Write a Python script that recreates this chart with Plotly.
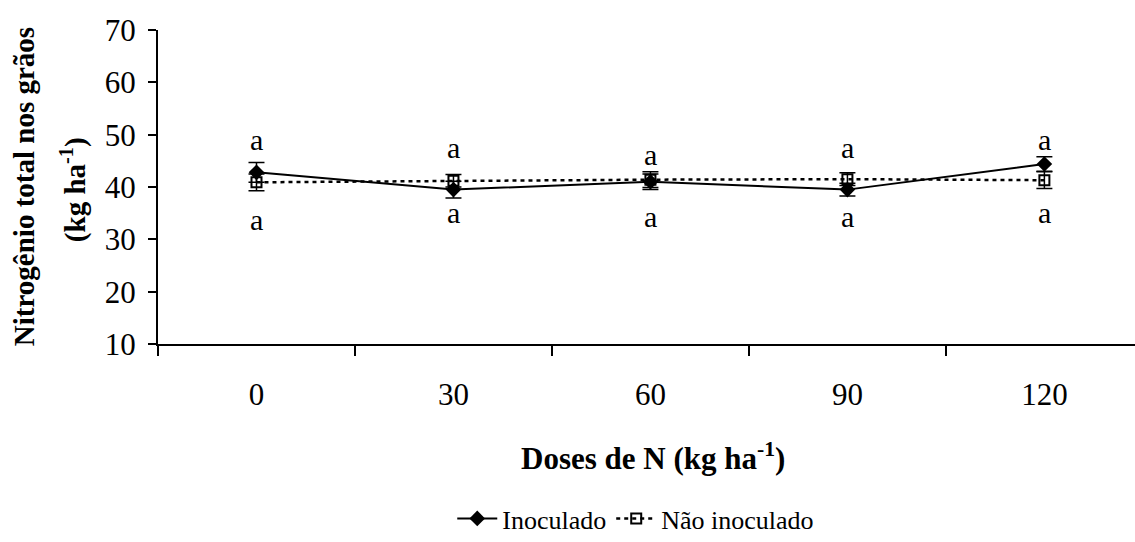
import plotly.graph_objects as go

# Nitrogen doses (kg ha-1) and total grain nitrogen (kg ha-1)
doses = ["0", "30", "60", "90", "120"]
inoculado = [42.8, 39.5, 41.0, 39.5, 44.4]
inoculado_err = [1.9, 1.6, 1.5, 1.2, 1.4]
nao_inoculado = [40.9, 41.2, 41.4, 41.5, 41.3]
nao_inoculado_err = [1.6, 1.2, 1.5, 1.2, 1.6]

# Significance letters above and below each pair of points
letras_sup = ["a", "a", "a", "a", "a"]
letras_sup_y = [49.0, 47.5, 46.2, 47.5, 49.0]
letras_inf = ["a", "a", "a", "a", "a"]
letras_inf_y = [33.8, 35.1, 34.4, 34.4, 35.1]

FONT = "Liberation Serif, Times New Roman, serif"

fig = go.Figure()

fig.add_trace(go.Scatter(
    x=doses, y=inoculado, name="Inoculado", mode="lines+markers",
    line=dict(color="black", width=2),
    marker=dict(symbol="diamond", size=12, color="black"),
    error_y=dict(type="data", array=inoculado_err, color="black",
                 thickness=1.5, width=8),
))
fig.add_trace(go.Scatter(
    x=doses, y=nao_inoculado, name="Não inoculado", mode="lines+markers",
    line=dict(color="black", width=2.5, dash="4px,4px"),
    marker=dict(symbol="square-open", size=10, color="black",
                line=dict(width=2)),
    error_y=dict(type="data", array=nao_inoculado_err, color="black",
                 thickness=1.5, width=8),
))

annotations = []
# category axes take the category index for annotation positions
for i, (t, y) in enumerate(zip(letras_sup, letras_sup_y)):
    annotations.append(dict(x=i, y=y, text=t, showarrow=False,
                            font=dict(family=FONT, size=30, color="black")))
for i, (t, y) in enumerate(zip(letras_inf, letras_inf_y)):
    annotations.append(dict(x=i, y=y, text=t, showarrow=False,
                            font=dict(family=FONT, size=30, color="black")))

# Two-line y-axis title
annotations.append(dict(
    xref="paper", yref="paper", x=-0.137, y=0.5, textangle=-90,
    text="<b>Nitrogênio total nos grãos</b>", showarrow=False,
    xanchor="center", yanchor="middle",
    font=dict(family=FONT, size=29, color="black")))
annotations.append(dict(
    xref="paper", yref="paper", x=-0.087, y=0.49, textangle=-90,
    text="<b>(kg ha<sup>-1</sup>)</b>", showarrow=False,
    xanchor="center", yanchor="middle",
    font=dict(family=FONT, size=29, color="black")))
# x-axis title
annotations.append(dict(
    xref="paper", yref="paper", x=0.507, y=-0.359,
    text="<b>Doses de N (kg ha<sup>-1</sup>)</b>", showarrow=False,
    xanchor="center", yanchor="middle",
    font=dict(family=FONT, size=31, color="black")))

fig.update_layout(
    width=1135, height=542,
    margin=dict(l=158, r=0, t=30, b=197),
    paper_bgcolor="white", plot_bgcolor="white",
    font=dict(family=FONT, size=24, color="black"),
    showlegend=True,
    legend=dict(orientation="h", x=0.489, y=-0.556, xanchor="center",
                yanchor="middle", font=dict(family=FONT, size=26),
                itemwidth=40),
    annotations=annotations,
    xaxis=dict(type="category", range=[-0.5, 4.46], tickson="boundaries",
               ticks="outside", ticklen=10, tickwidth=2, tickcolor="black",
               showline=True, linecolor="black", linewidth=2,
               showgrid=False, zeroline=False,
               tickfont=dict(family=FONT, size=31),
               ticklabelstandoff=22),
    yaxis=dict(range=[10, 70], tickvals=[10, 20, 30, 40, 50, 60, 70],
               ticks="outside", ticklen=8, tickwidth=2, tickcolor="black",
               showline=True, linecolor="black", linewidth=2,
               showgrid=False, zeroline=False,
               tickfont=dict(family=FONT, size=31),
               ticklabelstandoff=6),
)

fig.write_html("out.html")
